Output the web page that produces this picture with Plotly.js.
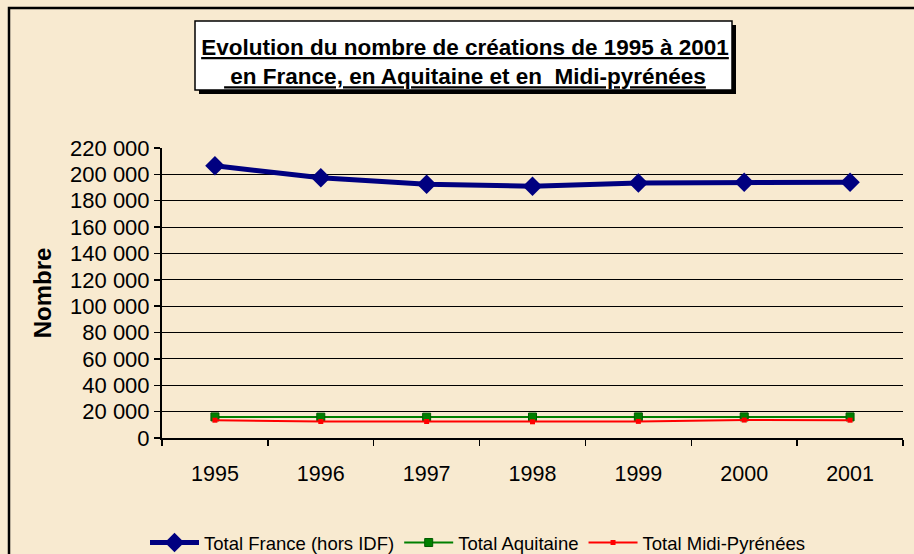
<!DOCTYPE html>
<html>
<head>
<meta charset="utf-8">
<script src="https://cdn.plot.ly/plotly-3.0.1.min.js"></script>
<style>
  html, body { margin: 0; padding: 0; background: #F8EAD0; }
  #chart { width: 914px; height: 554px; }
</style>
</head>
<body>
<div id="chart"></div>
<script>
const years = ['1995', '1996', '1997', '1998', '1999', '2000', '2001'];
const franceValues = [206500, 197500, 192500, 191000, 193500, 194000, 194000];
const aquitaineValues = [16000, 15800, 15800, 15900, 16000, 16000, 16000];
const midiPyreneesValues = [13500, 12500, 12500, 12300, 12600, 13600, 13500];
const seriesNames = ['Total France (hors IDF)', 'Total Aquitaine', 'Total Midi-Pyrénées'];
const yTicks = [0, 20000, 40000, 60000, 80000, 100000, 120000, 140000, 160000, 180000, 200000, 220000];

const traces = [
  {
    x: years, y: franceValues, name: seriesNames[0], type: 'scatter', mode: 'lines+markers',
    line: { color: '#000080', width: 5 },
    marker: { symbol: 'diamond', size: 15, color: '#000080' }
  },
  {
    x: years, y: aquitaineValues, name: seriesNames[1], type: 'scatter', mode: 'lines+markers',
    line: { color: '#008000', width: 2 },
    marker: { symbol: 'square', size: 8, color: '#008000', line: { color: '#005a00', width: 1 } }
  },
  {
    x: years, y: midiPyreneesValues, name: seriesNames[2], type: 'scatter', mode: 'lines+markers',
    line: { color: '#FF0000', width: 2 },
    marker: { symbol: 'square', size: 5, color: '#FF0000' }
  }
];

// pixel helpers for decoration placement (plot area 162..903 x, 148..438 y)
const W = 914, H = 554;
const L = 162, R = 903, T = 148, B = 438;
const px = v => (v - L) / (R - L);
const py = v => (B - v) / (B - T);

const layout = {
  width: W, height: H,
  paper_bgcolor: '#F8EAD0',
  plot_bgcolor: 'rgba(0,0,0,0)',
  separators: ', ',
  font: { family: 'Liberation Sans, Arial, sans-serif', color: '#000000', size: 22 },
  margin: { l: L, r: W - R, t: T, b: H - B },
  showlegend: true,
  title: {
    text: '<b><u>Evolution du nombre de créations de 1995 à 2001</u></b><br><b><u> en France, en Aquitaine et en  Midi-pyrénées</u></b>',
    font: { family: 'Liberation Sans, Arial, sans-serif', size: 22.5, color: '#000000' },
    x: 465 / W, xref: 'container', xanchor: 'center',
    y: 1 - 55 / H, yref: 'container', yanchor: 'middle'
  },
  xaxis: {
    type: 'category',
    range: [-0.5, 6.5],
    showline: true, linecolor: '#000000', linewidth: 2,
    ticks: 'outside', tickson: 'boundaries', ticklen: 6, tickwidth: 1.5, tickcolor: '#000000',
    showgrid: false, zeroline: false,
    tickfont: { size: 21.5 },
    ticklabelstandoff: 15
  },
  yaxis: {
    range: [0, 220000],
    tickvals: yTicks,
    tickformat: ',d',
    showline: true, linecolor: '#000000', linewidth: 2,
    ticks: 'outside', ticklen: 6, tickwidth: 1.5, tickcolor: '#000000',
    showgrid: true, gridcolor: '#000000', gridwidth: 1,
    zeroline: false,
    tickfont: { size: 22 },
    title: { text: '<b>Nombre</b>', font: { size: 24 }, standoff: 12 }
  },
  legend: {
    orientation: 'h',
    xref: 'container', yref: 'container',
    x: 145 / W, xanchor: 'left',
    y: 1 - 543 / H, yanchor: 'middle',
    font: { size: 18.5 },
    bgcolor: 'rgba(0,0,0,0)',
    itemwidth: 49,
    tracegroupgap: 0
  },
  shapes: [
    // outer chart frame
    { type: 'rect', xref: 'paper', yref: 'paper', x0: px(9), x1: 3, y0: -3, y1: py(8),
      line: { color: '#000000', width: 2.5 }, fillcolor: 'rgba(0,0,0,0)', layer: 'below' },
    // title box shadow
    { type: 'rect', xref: 'paper', yref: 'paper', x0: px(199), x1: px(736), y0: py(94), y1: py(25),
      line: { width: 0 }, fillcolor: '#000000', layer: 'above' },
    // title box
    { type: 'rect', xref: 'paper', yref: 'paper', x0: px(195), x1: px(732), y0: py(90), y1: py(21),
      line: { color: '#000000', width: 1.5 }, fillcolor: '#FFFFFF', layer: 'above' }
  ]
};

Plotly.newPlot('chart', traces, layout, { displayModeBar: false, staticPlot: true });
</script>
</body>
</html>
